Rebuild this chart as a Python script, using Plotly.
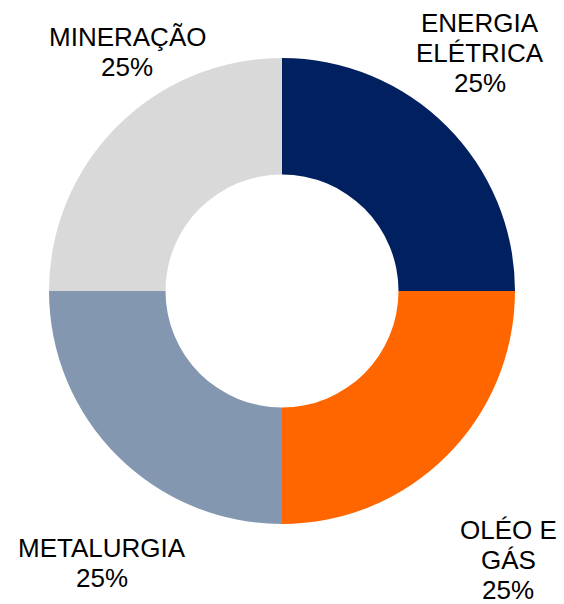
import plotly.graph_objects as go

categories = ["ENERGIA ELÉTRICA", "OLÉO E GÁS", "METALURGIA", "MINERAÇÃO"]
label_lines = [["ENERGIA", "ELÉTRICA"], ["OLÉO E", "GÁS"], ["METALURGIA"], ["MINERAÇÃO"]]
values = [25, 25, 25, 25]
colors = ["#002060", "#FF6600", "#8497B0", "#D9D9D9"]

W, H = 564, 604

# label anchor positions in page pixels: center x, first-line center y
label_pos = [(480, 23), (508, 530), (102, 547.5), (127, 37)]
line_step = 30

def fx(px):
    return px / W

def fy(py):
    return 1 - py / H

fig = go.Figure(go.Pie(
    labels=categories,
    values=values,
    marker=dict(colors=colors, line=dict(width=0)),
    hole=0.5,
    sort=False,
    direction="clockwise",
    rotation=0,
    textinfo="none",
    hoverinfo="label+percent",
    domain=dict(x=[fx(49), fx(515)], y=[fy(524), fy(58)]),
))

total = sum(values)
annotations = []
for lines, v, (px, py) in zip(label_lines, values, label_pos):
    pct = f"{round(100 * v / total)}%"
    for i, t in enumerate(lines + [pct]):
        annotations.append(dict(
            x=fx(px), y=fy(py + i * line_step), xref="paper", yref="paper",
            text=t, showarrow=False, xanchor="center", yanchor="middle",
            font=dict(family="Liberation Sans, Arial, sans-serif", size=26, color="#000000"),
        ))

fig.update_layout(
    width=W, height=H,
    margin=dict(l=0, r=0, t=0, b=0),
    showlegend=False,
    paper_bgcolor="white",
    plot_bgcolor="white",
    annotations=annotations,
)

fig.write_html(
    "out.html",
    config={"displayModeBar": False},
    post_script="document.body.style.margin='0';document.body.style.overflow='hidden';",
)
